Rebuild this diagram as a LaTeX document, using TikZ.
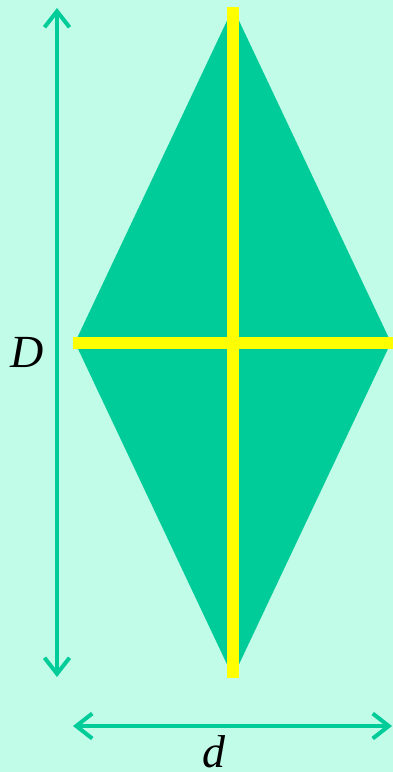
\documentclass[tikz,border=0pt]{standalone}
\usepackage{fontspec}
\setmainfont{Liberation Serif}
\usetikzlibrary{arrows.meta}
\definecolor{bgmint}{HTML}{C0FCE8}
\definecolor{rhgreen}{HTML}{00CC99}
\definecolor{diagyellow}{HTML}{FFFF00}
\tikzset{
  dimline/.style={draw=rhgreen,line width=4pt,{Straight Barb[length=16pt,width=25pt]}-{Straight Barb[length=16pt,width=25pt]}},
  diagline/.style={draw=diagyellow,line width=12pt},
  dimlabel/.style={font=\fontsize{46}{50}\selectfont\itshape,inner sep=0pt}
}
\begin{document}
\begin{tikzpicture}[x=1pt,y=-1pt]
\fill[bgmint] (0,0) rectangle (393,772);
\useasboundingbox (0,0) rectangle (393,772);
\coordinate (top) at (233,8);
\coordinate (bot) at (233,677);
\coordinate (lft) at (75,342.5);
\coordinate (rgt) at (391,342.5);
\fill[rhgreen] (top) -- (rgt) -- (bot) -- (lft) -- cycle;
\coordinate (ytop) at (233,7);
\coordinate (ybot) at (233,678);
\coordinate (ylft) at (73,342.5);
\coordinate (yrgt) at (393,342.5);
\draw[diagline] (ytop) -- (ybot);
\draw[diagline] (ylft) -- (yrgt);
\coordinate (Dtop) at (57,8);
\coordinate (Dbot) at (57,677);
\draw[dimline] (Dtop) -- (Dbot);
\coordinate (dlft) at (73,726);
\coordinate (drgt) at (392,726);
\draw[dimline] (dlft) -- (drgt);
\node[dimlabel] (Dlab) at (27,352) {D};
\node[dimlabel] (dlab) at (214,752) {d};
\end{tikzpicture}
\end{document}
